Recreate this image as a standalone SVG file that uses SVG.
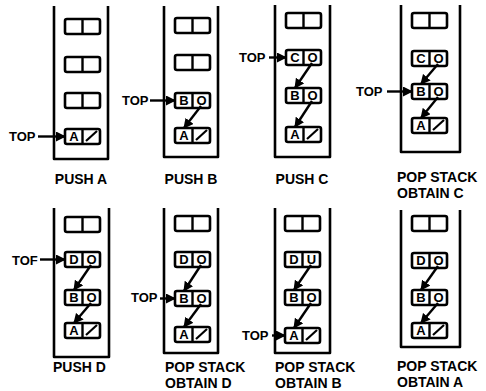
<svg xmlns="http://www.w3.org/2000/svg" width="486" height="391" viewBox="0 0 486 391">
<defs>
<style>
.wall{fill:none;stroke:#000;stroke-width:2.6;stroke-linejoin:round}
.cell{fill:#fff;stroke:#000;stroke-width:2.6}
.div{stroke:#000;stroke-width:2.4}
.nul{stroke:#000;stroke-width:2.2}
.ct{font-family:"Liberation Sans",Arial,sans-serif;font-weight:bold;font-size:13px;fill:#000;text-anchor:middle}
.lb{font-family:"Liberation Sans",Arial,sans-serif;font-weight:bold;font-size:14px;fill:#000}
.tp{font-family:"Liberation Sans",Arial,sans-serif;font-weight:bold;font-size:13px;fill:#000}
.ar{stroke:#000;stroke-width:2.4;fill:none;marker-end:url(#ah)}
</style>
<marker id="ah" viewBox="0 0 10 10" refX="9" refY="5" markerWidth="10" markerHeight="10" markerUnits="userSpaceOnUse" orient="auto">
<path d="M0,0 L10,5 L0,10 Z" fill="#000"/>
</marker>
<g id="empty"><rect class="cell" x="0" y="0" width="35" height="15" rx="2"/><line class="div" x1="17.5" y1="0" x2="17.5" y2="15"/></g>
</defs>

<!-- Panel 1: PUSH A -->
<g id="p1">
<path class="wall" d="M54,6 V159 H108 V6"/>
<use href="#empty" x="65" y="19"/>
<use href="#empty" x="65" y="57"/>
<use href="#empty" x="65" y="93"/>
<g id="p1A"><use href="#empty" x="65" y="129"/><text class="ct" x="74" y="141">A</text><line class="nul" x1="86" y1="141" x2="97" y2="131"/></g>
<text class="tp" x="9" y="141">TOP</text>
<text class="lb" x="81" y="184" text-anchor="middle">PUSH A</text>
</g>

<!-- Panel 2: PUSH B -->
<g id="p2">
<path class="wall" d="M164,6 V157 H218 V6"/>
<use href="#empty" x="175" y="18"/>
<use href="#empty" x="175" y="55"/>
<g id="p2B"><use href="#empty" x="175" y="93"/><text class="ct" x="184" y="105">B</text><text class="ct" x="201.5" y="105">O</text></g>
<g id="p2A"><use href="#empty" x="175" y="128"/><text class="ct" x="184" y="140">A</text><line class="nul" x1="196" y1="140" x2="207" y2="130"/></g>
<text class="tp" x="122" y="105">TOP</text>
<text class="lb" x="191" y="184" text-anchor="middle">PUSH B</text>
</g>

<!-- Panel 3: PUSH C -->
<g id="p3">
<path class="wall" d="M275,5 V157 H330 V5"/>
<use href="#empty" x="286" y="13"/>
<g id="p3C"><use href="#empty" x="286" y="50"/><text class="ct" x="295" y="62">C</text><text class="ct" x="312.5" y="62">O</text></g>
<g id="p3B"><use href="#empty" x="286" y="88"/><text class="ct" x="295" y="100">B</text><text class="ct" x="312.5" y="100">O</text></g>
<g id="p3A"><use href="#empty" x="286" y="127"/><text class="ct" x="295" y="139">A</text><line class="nul" x1="307" y1="139" x2="318" y2="129"/></g>
<text class="tp" x="239" y="62">TOP</text>
<text class="lb" x="302" y="184" text-anchor="middle">PUSH C</text>
</g>

<!-- Panel 4: POP STACK OBTAIN C -->
<g id="p4">
<path class="wall" d="M401,5 V152 H460 V5"/>
<use href="#empty" x="412" y="13"/>
<g id="p4C"><use href="#empty" x="412" y="51"/><text class="ct" x="421" y="63">C</text><text class="ct" x="438.5" y="63">O</text></g>
<g id="p4B"><use href="#empty" x="412" y="84"/><text class="ct" x="421" y="96">B</text><text class="ct" x="438.5" y="96">O</text></g>
<g id="p4A"><use href="#empty" x="412" y="118"/><text class="ct" x="421" y="130">A</text><line class="nul" x1="433" y1="130" x2="444" y2="120"/></g>
<text class="tp" x="356" y="96">TOP</text>
<text class="lb" x="397" y="182">POP STACK</text>
<text class="lb" x="397" y="198">OBTAIN C</text>
</g>

<!-- Panel 5: PUSH D -->
<g id="p5">
<path class="wall" d="M54,208 V357 H109 V208"/>
<use href="#empty" x="65" y="217"/>
<g id="p5D"><use href="#empty" x="65" y="252"/><text class="ct" x="74" y="264">D</text><text class="ct" x="91.5" y="264">O</text></g>
<g id="p5B"><use href="#empty" x="65" y="290"/><text class="ct" x="74" y="302">B</text><text class="ct" x="91.5" y="302">O</text></g>
<g id="p5A"><use href="#empty" x="65" y="323"/><text class="ct" x="74" y="335">A</text><line class="nul" x1="86" y1="335" x2="97" y2="325"/></g>
<text class="tp" x="12" y="265">TOF</text>
<text class="lb" x="53" y="372">PUSH D</text>
</g>

<!-- Panel 6: POP STACK OBTAIN D -->
<g id="p6">
<path class="wall" d="M164,208 V353 H218 V208"/>
<use href="#empty" x="175" y="216"/>
<g id="p6D"><use href="#empty" x="175" y="252"/><text class="ct" x="184" y="264">D</text><text class="ct" x="201.5" y="264">O</text></g>
<g id="p6B"><use href="#empty" x="175" y="291"/><text class="ct" x="184" y="303">B</text><text class="ct" x="201.5" y="303">O</text></g>
<g id="p6A"><use href="#empty" x="175" y="327"/><text class="ct" x="184" y="339">A</text><line class="nul" x1="196" y1="339" x2="207" y2="329"/></g>
<text class="tp" x="131" y="302">TOP</text>
<text class="lb" x="165" y="372">POP STACK</text>
<text class="lb" x="165" y="388">OBTAIN D</text>
</g>

<!-- Panel 7: POP STACK OBTAIN B -->
<g id="p7">
<path class="wall" d="M275,208 V353 H330 V208"/>
<use href="#empty" x="285" y="216"/>
<g id="p7D"><use href="#empty" x="285" y="252"/><text class="ct" x="294" y="264">D</text><text class="ct" x="311.5" y="264">U</text></g>
<g id="p7B"><use href="#empty" x="285" y="290"/><text class="ct" x="294" y="302">B</text><text class="ct" x="311.5" y="302">O</text></g>
<g id="p7A"><use href="#empty" x="285" y="328"/><text class="ct" x="294" y="340">A</text><line class="nul" x1="306" y1="340" x2="317" y2="330"/></g>
<text class="tp" x="242" y="340">TOP</text>
<text class="lb" x="275" y="372">POP STACK</text>
<text class="lb" x="275" y="388">OBTAIN B</text>
</g>

<!-- Panel 8: POP STACK OBTAIN A -->
<g id="p8">
<path class="wall" d="M401,210 V347 H460 V210"/>
<use href="#empty" x="412" y="216"/>
<g id="p8D"><use href="#empty" x="412" y="253"/><text class="ct" x="421" y="265">D</text><text class="ct" x="438.5" y="265">O</text></g>
<g id="p8B"><use href="#empty" x="412" y="290"/><text class="ct" x="421" y="302">B</text><text class="ct" x="438.5" y="302">O</text></g>
<g id="p8A"><use href="#empty" x="412" y="323"/><text class="ct" x="421" y="335">A</text><line class="nul" x1="433" y1="335" x2="444" y2="325"/></g>
<text class="lb" x="397" y="371">POP STACK</text>
<text class="lb" x="397" y="387">OBTAIN A</text>
</g>

<g id="connectors">
<!-- TOP pointers -->
<line class="ar" x1="38" y1="136.5" x2="65" y2="136.5"/>
<line class="ar" x1="150" y1="100.5" x2="175" y2="100.5"/>
<line class="ar" x1="269" y1="57.5" x2="286" y2="57.5"/>
<line class="ar" x1="387" y1="91.5" x2="412" y2="91.5"/>
<line class="ar" x1="40" y1="259.5" x2="65" y2="259.5"/>
<line class="ar" x1="160" y1="298.5" x2="175" y2="298.5"/>
<line class="ar" x1="272" y1="335.5" x2="285" y2="335.5"/>
<!-- link pointers -->
<line class="ar" x1="201" y1="106" x2="184" y2="128"/>
<line class="ar" x1="312" y1="63" x2="295" y2="88"/>
<line class="ar" x1="312" y1="101" x2="295" y2="127"/>
<line class="ar" x1="438" y1="64" x2="421" y2="84"/>
<line class="ar" x1="438" y1="97" x2="421" y2="118"/>
<line class="ar" x1="91" y1="265" x2="74" y2="290"/>
<line class="ar" x1="91" y1="303" x2="74" y2="323"/>
<line class="ar" x1="201" y1="265" x2="184" y2="291"/>
<line class="ar" x1="201" y1="304" x2="184" y2="327"/>
<line class="ar" x1="311" y1="265" x2="294" y2="290"/>
<line class="ar" x1="311" y1="303" x2="294" y2="328"/>
<line class="ar" x1="438" y1="266" x2="421" y2="290"/>
<line class="ar" x1="438" y1="303" x2="421" y2="323"/>
</g>
</svg>
